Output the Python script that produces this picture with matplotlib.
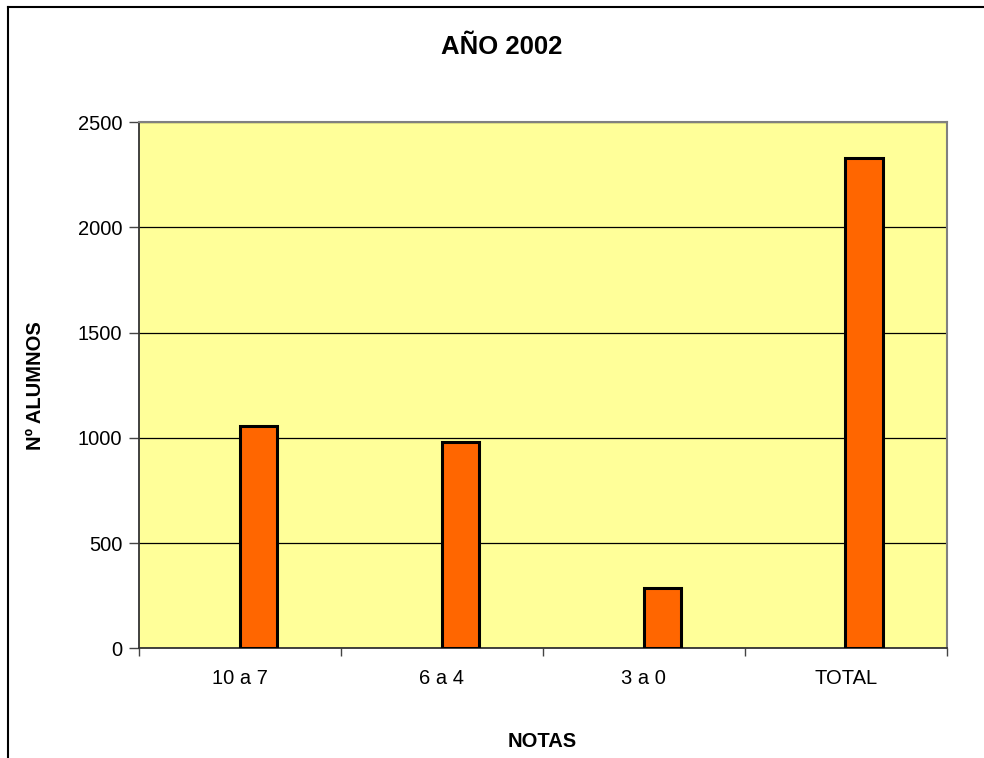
import matplotlib
matplotlib.use("Agg")
import matplotlib.pyplot as plt
import numpy as np
from matplotlib.lines import Line2D

# datos del grafico
categorias = ["10 a 7", "6 a 4", "3 a 0", "TOTAL"]
alumnos = [1055, 980, 285, 2330]
yticks = [0, 500, 1000, 1500, 2000, 2500]

plt.rcParams['font.family'] = ['Liberation Sans', 'DejaVu Sans']

fig = plt.figure(figsize=(9.84, 7.58), dpi=100)
ax = fig.add_axes([0.1413, 0.1447, 0.8206, 0.694])

x = np.arange(len(categorias))
# las barras estan desplazadas a la derecha del centro (como en Excel)
ax.bar(x + 0.092, alumnos, width=0.185, color='#FF6600', edgecolor='black', linewidth=2.2, zorder=3)

ax.set_facecolor('#FFFF99')
ax.set_xlim(-0.5, len(categorias) - 0.5)
ax.set_ylim(0, 2500)
ax.set_yticks(yticks)
ax.yaxis.grid(True, color='black', linewidth=0.9, zorder=1)
ax.set_axisbelow(True)

# ticks del eje x entre categorias, etiquetas centradas
ax.set_xticks(np.arange(len(categorias) + 1) - 0.5)
ax.set_xticklabels([])
ax.set_xticks(x, minor=True)
ax.set_xticklabels(categorias, minor=True)
ax.tick_params(axis='x', which='minor', length=0, pad=15, labelsize=14.5)
ax.tick_params(axis='x', which='major', length=6, width=1, color='#444444')
ax.tick_params(axis='y', length=7, width=1, color='#444444', pad=5, labelsize=14.5)

for s in ['top', 'right']:
    ax.spines[s].set_color('#808080')
    ax.spines[s].set_linewidth(1.5)
for s in ['left', 'bottom']:
    ax.spines[s].set_color('#333333')
    ax.spines[s].set_linewidth(1.3)

ax.set_ylabel("Nº ALUMNOS", fontsize=14.5, fontweight='bold')
ax.yaxis.set_label_coords(-0.116, 0.5)
fig.text(0.551, 0.022, "NOTAS", fontsize=14.5, fontweight='bold', ha='center', va='center')
fig.text(0.51, 0.938, "AÑO 2002", fontsize=18.5, fontweight='bold', ha='center', va='center')

# borde del grafico (solo arriba e izquierda visibles)
fig.add_artist(Line2D([0.008, 1.0], [0.9905, 0.9905], color='black', linewidth=1.5, transform=fig.transFigure))
fig.add_artist(Line2D([0.0085, 0.0085], [0.0, 0.9905], color='black', linewidth=1.5, transform=fig.transFigure))

plt.savefig("out.png", dpi=100)
